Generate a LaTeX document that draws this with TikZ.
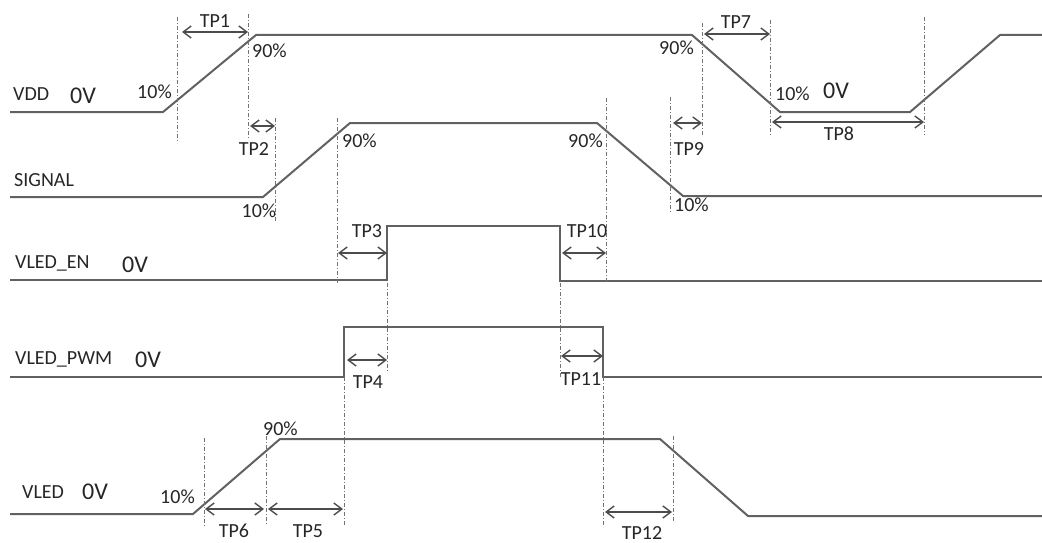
\documentclass[tikz,border=0pt]{standalone}
\usepackage{fontspec}
\setmainfont{Carlito}
\usetikzlibrary{arrows.meta}

\begin{document}
\begin{tikzpicture}[x=1pt, y=-1pt, >={Straight Barb[length=8pt,width=12pt]},
    sig/.style={draw=black!62, line width=2pt, line join=miter},
    guide/.style={draw=black!55, line width=1pt, dash pattern=on 4pt off 2pt on 1pt off 2pt},
    span/.style={<->, draw=black!70, line width=1.4pt},
    lbl/.style={text=black!85, font=\fontsize{20}{23}\selectfont, inner sep=0pt},
    volt/.style={text=black!85, font=\fontsize{24}{27}\selectfont, inner sep=0pt}]
    \useasboundingbox (0,0) rectangle (1042,543);

    % 各信号波形
    \draw[sig] (10,112) -- (163,112) -- (256,35) -- (692,35) -- (780,112) -- (910,112) -- (1000,35) -- (1042,35);
    \draw[sig] (10,197) -- (263,197) -- (350,123) -- (597,123) -- (683,196) -- (1042,196);
    \draw[sig] (10,280) -- (387,280) -- (387,226) -- (560,226) -- (560,281) -- (1042,281);
    \draw[sig] (10,377) -- (344,377) -- (344,327) -- (603,327) -- (603,377) -- (1042,377);
    \draw[sig] (10,514) -- (193,514) -- (280,439) -- (660,439) -- (748,516) -- (1042,516);

    % 信号名称及 0V
    \node[lbl, anchor=base west] (vdd) at (13,100) {VDD};
    \node[volt, anchor=base west] (vdd0) at (70,103) {0V};
    \node[lbl, anchor=base west] (signal) at (14,186) {SIGNAL};
    \node[lbl, anchor=base west] (en) at (15,268) {VLED\_EN};
    \node[volt, anchor=base west] (en0) at (122,272) {0V};
    \node[lbl, anchor=base west] (pwm) at (15,364) {VLED\_PWM};
    \node[volt, anchor=base west] (pwm0) at (135,367) {0V};
    \node[lbl, anchor=base west] (vled) at (22,498) {VLED};
    \node[volt, anchor=base west] (vled0) at (82,499) {0V};
    \node[volt, anchor=base west] (vddoff) at (823,99) {0V};

    % 参考虚线
    \foreach \x/\ya/\yb in {177/17/143, 248/14/140, 275/118/222, 337/118/283,
        606/98/283, 670/97/213, 702/23/135, 770/20/137, 924/17/135,
        387/283/373, 560/283/378, 344/377/525, 603/377/527,
        204/438/526, 266/436/524, 673/436/522} {
        \draw[guide] (\x,\ya) -- (\x,\yb);
    }

    % 百分比
    \node[lbl, anchor=base east] (p1) at (172,99) {10\%};
    \node[lbl, anchor=base west] (p2) at (252,58) {90\%};
    \node[lbl, anchor=base east] (p3) at (694,55) {90\%};
    \node[lbl, anchor=base west] (p4) at (775,100) {10\%};
    \node[lbl, anchor=base] (p5) at (259,217) {10\%};
    \node[lbl, anchor=base west] (p6) at (342,147) {90\%};
    \node[lbl, anchor=base east] (p7) at (603,147) {90\%};
    \node[lbl, anchor=base west] (p8) at (674,211) {10\%};
    \node[lbl, anchor=base east] (p9) at (195,503) {10\%};
    \node[lbl, anchor=base west] (p10) at (263,435) {90\%};

    % 时间间隔 TP1--TP12
    \foreach \name/\xa/\xb/\y/\lx/\ly in {TP1/182/248/32/215/28, TP2/250/275/126/254/155,
        TP3/338/387/253/367/237, TP4/347/387/360/368/388, TP5/268/343/509/308/537,
        TP6/205/264/509/234/537, TP7/704/770/34/736/29, TP8/772/924/122/839/140,
        TP9/673/702/123/689/155, TP10/562/606/253/587/237, TP11/561/603/356/581/385,
        TP12/605/672/512/642/539} {
        \coordinate (\name-a) at (\xa,\y);
        \coordinate (\name-b) at (\xb,\y);
        \draw[span] (\name-a) -- (\name-b);
        \node[lbl, anchor=base] (\name) at (\lx,\ly) {\name};
    }
\end{tikzpicture}
\end{document}
